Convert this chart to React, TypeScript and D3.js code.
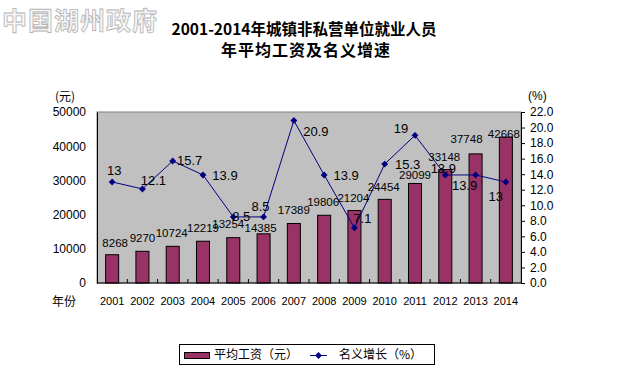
import { useRef, useEffect } from 'react';
import * as d3 from 'd3';

// chart values
const years = ['2001', '2002', '2003', '2004', '2005', '2006', '2007', '2008', '2009', '2010', '2011', '2012', '2013', '2014'];
const wages = [8268, 9270, 10724, 12219, 13254, 14385, 17389, 19806, 21204, 24454, 29099, 33148, 37748, 42668];
const growth = [13, 12.1, 15.7, 13.9, 8.5, 8.5, 20.9, 13.9, 7.1, 15.3, 19, 13.9, 13.9, 13];
const leftTicks = [0, 10000, 20000, 30000, 40000, 50000];
const rightTicks = [0, 2, 4, 6, 8, 10, 12, 14, 16, 18, 20, 22];

// label nudges (the original chart placed labels by hand)
const growthLabelNudge: [number, number][] = [
    [2, -11], [11, -8], [17, 0], [22, 1], [8, 0], [-3, -10], [22, 11],
    [22, 1], [8, -9], [23, 0], [-14, -7], [-2, -6], [-11, 11], [-10, 15]
];
const wageLabelNudge: [number, number][] = [
    [3, -12], [0, -13.5], [-1, -13], [0, -13.5], [-5, -14], [-3, -5.5], [0, -13.5],
    [-1, -13.5], [-1, -12], [-1, -12], [0, -8.5], [-1, -13], [-9, -15], [-2, -3]
];

const FONT = '"Liberation Sans", Arial, "Noto Sans CJK SC", sans-serif';
const CJK = '"Noto Sans CJK SC", "Liberation Sans", sans-serif';

const App = () => {
    const svgRef = useRef<SVGSVGElement | null>(null);

    useEffect(() => {
        const svgElement = svgRef.current;
        if (!svgElement) return;

        const width = 626;
        const height = 385;
        const plot = { left: 97, right: 521, top: 112, bottom: 283 };

        const svg = d3.select(svgElement)
            .attr('width', width)
            .attr('height', height);

        svg.selectAll('*').remove();

        svg.append('rect')
            .attr('width', width)
            .attr('height', height)
            .attr('fill', '#fff');

        // watermark
        svg.append('text')
            .attr('x', 2)
            .attr('y', 30)
            .text('中国湖州政府')
            .style('font-family', CJK)
            .style('font-weight', 'bold')
            .style('font-size', '25px')
            .style('letter-spacing', '1px')
            .style('fill', '#f6f6f6')
            .style('stroke', '#b4b4b4')
            .style('stroke-width', 0.8);

        // title
        svg.append('text')
            .attr('x', 304)
            .attr('y', 35)
            .attr('text-anchor', 'middle')
            .text('2001-2014年城镇非私营单位就业人员')
            .style('font-family', CJK)
            .style('font-weight', 'bold')
            .style('font-size', '15.5px')
            .style('fill', '#000');

        svg.append('text')
            .attr('x', 306)
            .attr('y', 56)
            .attr('text-anchor', 'middle')
            .text('年平均工资及名义增速')
            .style('font-family', CJK)
            .style('font-weight', 'bold')
            .style('font-size', '16px')
            .style('letter-spacing', '1px')
            .style('fill', '#000');

        const x = d3.scaleBand<string>()
            .domain(years)
            .range([plot.left, plot.right])
            .paddingInner(0.57)
            .paddingOuter(0.285);

        const xCat = d3.scaleBand<string>()
            .domain(years)
            .range([plot.left, plot.right]);

        const yL = d3.scaleLinear()
            .domain([0, 50000])
            .range([plot.bottom, plot.top]);

        const yR = d3.scaleLinear()
            .domain([0, 22])
            .range([plot.bottom, plot.top]);

        // plot area
        svg.append('rect')
            .attr('x', plot.left)
            .attr('y', plot.top)
            .attr('width', plot.right - plot.left)
            .attr('height', plot.bottom - plot.top)
            .attr('fill', '#C0C0C0')
            .attr('stroke', '#808080')
            .attr('stroke-width', 1);

        // bars
        svg.append('g')
            .selectAll('rect')
            .data(wages)
            .join('rect')
            .attr('x', (_, i) => x(years[i])!)
            .attr('y', d => yL(d))
            .attr('width', x.bandwidth())
            .attr('height', d => plot.bottom - yL(d))
            .attr('fill', '#993366')
            .attr('stroke', '#000')
            .attr('stroke-width', 1);

        // bottom axis: ticks between categories, pointing up
        const xAxis = svg.append('g')
            .attr('transform', `translate(0, ${plot.bottom})`);
        xAxis.append('line')
            .attr('x1', plot.left)
            .attr('x2', plot.right)
            .attr('stroke', '#000');
        xAxis.selectAll('line.tick')
            .data(years.slice(1))
            .join('line')
            .attr('class', 'tick')
            .attr('x1', d => xCat(d)!)
            .attr('x2', d => xCat(d)!)
            .attr('y1', 0)
            .attr('y2', -4)
            .attr('stroke', '#000');
        xAxis.selectAll('text')
            .data(years)
            .join('text')
            .attr('x', d => xCat(d)! + xCat.bandwidth() / 2)
            .attr('y', 22)
            .attr('text-anchor', 'middle')
            .text(d => d)
            .style('font-family', FONT)
            .style('font-size', '11px')
            .style('fill', '#000');

        svg.append('text')
            .attr('x', 52)
            .attr('y', 306)
            .text('年份')
            .style('font-family', CJK)
            .style('font-size', '12px')
            .style('fill', '#000');

        // left axis
        const yAxisL = svg.append('g')
            .attr('transform', `translate(${plot.left}, 0)`)
            .call(d3.axisLeft(yL).tickValues(leftTicks).tickSize(0).tickPadding(11).tickFormat(d => String(d)));
        yAxisL.select('.domain').attr('stroke', '#000');
        yAxisL.selectAll('text')
            .style('font-family', FONT)
            .style('font-size', '12px')
            .attr('fill', '#000');

        svg.append('text')
            .attr('x', 55)
            .attr('y', 101)
            .text('(元)')
            .style('font-family', CJK)
            .style('font-size', '12px')
            .style('fill', '#000');

        // right axis
        const yAxisR = svg.append('g')
            .attr('transform', `translate(${plot.right}, 0)`)
            .call(d3.axisRight(yR).tickValues(rightTicks).tickSize(4).tickPadding(5).tickFormat(d3.format('.1f')));
        yAxisR.selectAll('path, line').attr('stroke', '#000');
        yAxisR.selectAll('text')
            .style('font-family', FONT)
            .style('font-size', '12px')
            .attr('fill', '#000');

        svg.append('text')
            .attr('x', 528)
            .attr('y', 100)
            .text('(%)')
            .style('font-family', FONT)
            .style('font-size', '12px')
            .style('fill', '#000');

        // growth line
        const cx = (i: number) => x(years[i])! + x.bandwidth() / 2;
        const line = d3.line<number>()
            .x((_, i) => cx(i))
            .y(d => yR(d));

        svg.append('path')
            .datum(growth)
            .attr('fill', 'none')
            .attr('stroke', '#000080')
            .attr('stroke-width', 1)
            .attr('d', line);

        svg.append('g')
            .selectAll('path')
            .data(growth)
            .join('path')
            .attr('d', d3.symbol(d3.symbolDiamond2, 30) as unknown as string)
            .attr('transform', (d, i) => `translate(${cx(i)}, ${yR(d)})`)
            .attr('fill', '#000080');

        // bar labels
        svg.append('g')
            .selectAll('text')
            .data(wages)
            .join('text')
            .attr('x', (_, i) => cx(i) + wageLabelNudge[i][0])
            .attr('y', (d, i) => yL(d) + wageLabelNudge[i][1] + 4)
            .attr('text-anchor', 'middle')
            .text(d => String(d))
            .style('font-family', FONT)
            .style('font-size', '11.5px')
            .style('fill', '#000');

        // growth labels
        svg.append('g')
            .selectAll('text')
            .data(growth)
            .join('text')
            .attr('x', (_, i) => cx(i) + growthLabelNudge[i][0])
            .attr('y', (d, i) => yR(d) + growthLabelNudge[i][1] + 4.5)
            .attr('text-anchor', 'middle')
            .text(d => String(d))
            .style('font-family', FONT)
            .style('font-size', '13px')
            .style('fill', '#000');

        // legend
        const legend = svg.append('g');
        legend.append('rect')
            .attr('x', 179.5)
            .attr('y', 344.5)
            .attr('width', 255)
            .attr('height', 20)
            .attr('fill', '#fff')
            .attr('stroke', '#000');
        legend.append('rect')
            .attr('x', 184.5)
            .attr('y', 352.5)
            .attr('width', 25)
            .attr('height', 6)
            .attr('fill', '#993366')
            .attr('stroke', '#000');
        legend.append('text')
            .attr('x', 214)
            .attr('y', 359)
            .text('平均工资（元）')
            .style('font-family', CJK)
            .style('font-size', '12px')
            .style('fill', '#000');
        legend.append('line')
            .attr('x1', 310)
            .attr('x2', 327)
            .attr('y1', 355.5)
            .attr('y2', 355.5)
            .attr('stroke', '#000080');
        legend.append('path')
            .attr('d', d3.symbol(d3.symbolDiamond2, 30) as unknown as string)
            .attr('transform', 'translate(318.5, 355.5)')
            .attr('fill', '#000080');
        legend.append('text')
            .attr('x', 339)
            .attr('y', 359)
            .text('名义增长（%）')
            .style('font-family', CJK)
            .style('font-size', '12px')
            .style('fill', '#000');
    }, []);

    return (
        <svg ref={svgRef} style={{ position: 'absolute', left: 0, top: 0, display: 'block' }}></svg>
    );
};

export default App;
